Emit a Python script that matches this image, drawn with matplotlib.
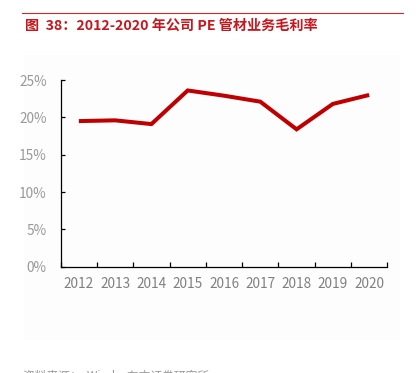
import matplotlib.pyplot as plt
from matplotlib.patches import Rectangle
from matplotlib.ticker import FuncFormatter

plt.rcParams['font.family'] = ['Noto Sans CJK SC', 'DejaVu Sans']

years = ['2012', '2013', '2014', '2015', '2016', '2017', '2018', '2019', '2020']
margin = [19.5, 19.6, 19.1, 23.6, 22.9, 22.1, 18.4, 21.8, 23.0]  # 毛利率 %

title = '图  38：2012-2020 年公司 PE 管材业务毛利率'
source = '资料来源：  Wind，东方证券研究所'

W, H = 416, 373
fig = plt.figure(figsize=(W / 100, H / 100), dpi=100)
fig.patch.set_facecolor('white')

# very light panel behind the chart
fig.patches.append(Rectangle((24 / W, 1 - 340 / H), (400 - 24) / W, (340 - 55) / H,
                             transform=fig.transFigure, facecolor='#FDFDFD',
                             edgecolor='none', zorder=-5))

# red rule + title
fig.add_artist(plt.Line2D([22 / W, 403 / W], [1 - 12.5 / H, 1 - 12.5 / H],
                          transform=fig.transFigure, color='#D9262C', linewidth=0.8))
fig.text(25 / W, 1 - 25.5 / H, title, color='#C8161D', fontsize=10.2, fontweight='bold',
         va='center', ha='left')
fig.text(23 / W, 1 - 376 / H, source, color='#9A9A9A', fontsize=8.5, va='center', ha='left')

ax = fig.add_axes([60.7 / W, 1 - 266.8 / H, (387.3 - 60.7) / W, (266.8 - 80) / H])
ax.set_facecolor('none')
ax.set_zorder(2)

x = list(range(len(years)))
ax.plot(x, margin, color='#C00000', linewidth=2.9, solid_capstyle='butt', solid_joinstyle='miter')

ax.set_xlim(-0.5, len(years) - 0.5)
ax.set_ylim(0, 25)
ax.set_yticks([0, 5, 10, 15, 20, 25])
ax.yaxis.set_major_formatter(FuncFormatter(lambda v, p: f'{v:.0f}%'))
ax.set_xticks(x)
ax.set_xticklabels(years)
ax.set_xticks([i - 0.5 for i in range(len(years) + 1)], minor=True)

for s in ['top', 'right']:
    ax.spines[s].set_visible(False)
for s in ['left', 'bottom']:
    ax.spines[s].set_color('black')
    ax.spines[s].set_linewidth(0.9)

ax.tick_params(axis='x', which='major', length=0, pad=7, labelsize=9.8, labelcolor='#808080')
ax.tick_params(axis='x', which='minor', direction='in', length=3.5, width=0.9)
ax.tick_params(axis='y', direction='in', length=3, width=0.9, pad=10,
               labelsize=9.8, labelcolor='#999999')

fig.savefig('out.png', dpi=100, facecolor='white')
